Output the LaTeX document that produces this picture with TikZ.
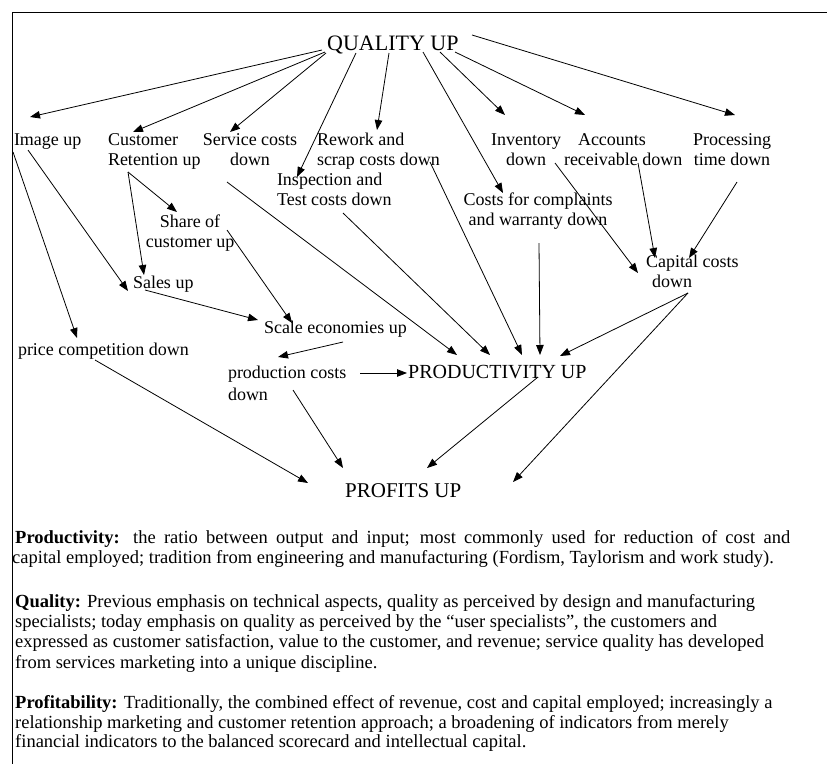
\documentclass[tikz,border=0pt]{standalone}
\usepackage{fontspec}
\setmainfont{Liberation Serif}
\usetikzlibrary{arrows.meta}
\begin{document}
\begin{tikzpicture}[x=1pt,y=-1pt,
  lbl/.style={font=\fontsize{18}{20}\selectfont, inner sep=0pt, outer sep=0pt},
  para/.style={font=\fontsize{18.5}{20}\selectfont, inner sep=0pt, anchor=base west},
  arr/.style={-{Triangle[length=10pt,width=7.5pt]}, line width=0.8pt},
  border/.style={line width=1pt}]
\useasboundingbox (0,0) rectangle (827,764);
% frame
\coordinate (frTL) at (12,12.5);
\coordinate (frTR) at (827,12.5);
\coordinate (frBL) at (12,764);
\draw[border] (frTR) -- (frTL) -- (frBL);

% big labels
\node[inner sep=0pt, anchor=base west, font=\fontsize{22}{24}\selectfont] (quality) at (327,50) {QUALITY UP};
\node[inner sep=0pt, anchor=base west, font=\fontsize{20}{22}\selectfont] (productivity) at (408,378) {PRODUCTIVITY UP};
\node[inner sep=0pt, anchor=base west, font=\fontsize{21}{23}\selectfont] (profits) at (345,497) {PROFITS UP};

% labels (base anchor = baseline of the last line)
\node[lbl, anchor=base west] (image) at (14,145) {Image up};
\node[lbl, anchor=base west, align=left] (customer) at (108,165) {Customer\\Retention up};
\node[lbl, anchor=base, align=center] (service) at (250,165) {Service costs\\down};
\node[lbl, anchor=base west, align=left] (rework) at (317,165) {Rework and\\scrap costs down};
\node[lbl, anchor=base west, align=left] (inspection) at (277,205) {Inspection and\\Test costs down};
\node[lbl, anchor=base, align=center] (inventory) at (526,165) {Inventory\\down};
\node[lbl, anchor=base west, align=left] (accounts) at (564,165) {\hspace*{14pt}Accounts\\receivable down};
\node[lbl, anchor=base, align=center] (processing) at (732,165) {Processing\\time down};
\node[lbl, anchor=base, align=center] (complaints) at (538,225) {Costs for complaints\\and warranty down};
\node[lbl, anchor=base, align=center] (share) at (190,247) {Share of\\customer up};
\node[lbl, anchor=base west] (sales) at (133,288) {Sales up};
\node[lbl, anchor=base west] (scale) at (264,333) {Scale economies up};
\node[lbl, anchor=base west] (price) at (18,355) {price competition down};
\node[lbl, anchor=base west, align=left, font=\fontsize{18}{22}\selectfont] (production) at (228,400) {production costs\\down};
\node[lbl, anchor=base west, align=left] (capital) at (646,287) {Capital costs\\\hspace*{6pt}down};

% connector end points
\coordinate (qImg) at (322,50);   \coordinate (imgTip) at (30,117);
\coordinate (qCus) at (325,52);   \coordinate (cusTip) at (133,132);
\coordinate (qSer) at (326,53);   \coordinate (serTip) at (230,132);
\coordinate (qIns) at (356,53);   \coordinate (insTip) at (297,177);
\coordinate (qRew) at (389,53);   \coordinate (rewTip) at (377,130);
\coordinate (qCom) at (423,52);   \coordinate (comTip) at (503,193);
\coordinate (qInv) at (440,52);   \coordinate (invTip) at (505,115);
\coordinate (qAcc) at (455,52);   \coordinate (accTip) at (585,115);
\coordinate (qPro) at (472,35);   \coordinate (proTip) at (735,115);

\coordinate (imgA) at (28,150);   \coordinate (salesTipA) at (128,291);
\coordinate (imgB) at (13,152);   \coordinate (priceTip) at (77,338);
\coordinate (cusA) at (128,172);  \coordinate (shareTip) at (177,212);
                                  \coordinate (salesTipB) at (144,275);
\coordinate (shareA) at (227,230); \coordinate (scaleTipA) at (292,323);
\coordinate (salesA) at (145,290); \coordinate (scaleTipB) at (258,320);
\coordinate (scaleA) at (343,342); \coordinate (prodcTip) at (278,357);

\coordinate (serA) at (227,182);  \coordinate (pTip1) at (457,355);
\coordinate (insA) at (343,213);  \coordinate (pTip2) at (490,355);
\coordinate (rewA) at (430,162);  \coordinate (pTip3) at (522,355);
\coordinate (comA) at (539,243);  \coordinate (pTip4) at (540,355);
\coordinate (capA) at (688,293);  \coordinate (pTip5) at (560,356);
\coordinate (prodcA) at (360,373); \coordinate (pTip6) at (407,373);

\coordinate (invA) at (555,163);  \coordinate (capTip1) at (638,273);
\coordinate (accA) at (638,163);  \coordinate (capTip2) at (655,258);
\coordinate (proA) at (737,182);  \coordinate (capTip3) at (689,258);

\coordinate (priceA) at (95,360); \coordinate (fTip1) at (308,483);
\coordinate (prodcB) at (293,390); \coordinate (fTip2) at (343,468);
\coordinate (prodyA) at (538,377); \coordinate (fTip3) at (427,468);
\coordinate (capB) at (688,293);  \coordinate (fTip4) at (513,482);

% connectors
\draw[arr] (qImg) -- (imgTip);
\draw[arr] (qCus) -- (cusTip);
\draw[arr] (qSer) -- (serTip);
\draw[arr] (qIns) -- (insTip);
\draw[arr] (qRew) -- (rewTip);
\draw[arr] (qCom) -- (comTip);
\draw[arr] (qInv) -- (invTip);
\draw[arr] (qAcc) -- (accTip);
\draw[arr] (qPro) -- (proTip);

\draw[arr] (imgA) -- (salesTipA);
\draw[arr] (imgB) -- (priceTip);
\draw[arr] (cusA) -- (shareTip);
\draw[arr] (cusA) -- (salesTipB);
\draw[arr] (shareA) -- (scaleTipA);
\draw[arr] (salesA) -- (scaleTipB);
\draw[arr] (scaleA) -- (prodcTip);

\draw[arr] (serA) -- (pTip1);
\draw[arr] (insA) -- (pTip2);
\draw[arr] (rewA) -- (pTip3);
\draw[arr] (comA) -- (pTip4);
\draw[arr] (capA) -- (pTip5);
\draw[arr] (prodcA) -- (pTip6);

\draw[arr] (invA) -- (capTip1);
\draw[arr] (accA) -- (capTip2);
\draw[arr] (proA) -- (capTip3);

\draw[arr] (priceA) -- (fTip1);
\draw[arr] (prodcB) -- (fTip2);
\draw[arr] (prodyA) -- (fTip3);
\draw[arr] (capB) -- (fTip4);

% paragraphs
\node[para] (p1a) at (15,543) {\makebox[775pt][s]{\textbf{Productivity:} the ratio between output and input; most commonly used for reduction of cost and}};
\node[para] (p1b) at (12,563) {capital employed; tradition from engineering and manufacturing (Fordism, Taylorism and work study).};
\node[para] (p2a) at (15,607) {\textbf{Quality:} Previous emphasis on technical aspects, quality as perceived by design and manufacturing};
\node[para] (p2b) at (15,627) {specialists; today emphasis on quality as perceived by the “user specialists”, the customers and};
\node[para] (p2c) at (15,647) {expressed as customer satisfaction, value to the customer, and revenue; service quality has developed};
\node[para] (p2d) at (15,668) {from services marketing into a unique discipline.};
\node[para] (p3a) at (15,708) {\textbf{Profitability:} Traditionally, the combined effect of revenue, cost and capital employed; increasingly a};
\node[para] (p3b) at (15,728) {relationship marketing and customer retention approach; a broadening of indicators from merely};
\node[para] (p3c) at (15,747) {financial indicators to the balanced scorecard and intellectual capital.};
\end{tikzpicture}
\end{document}
